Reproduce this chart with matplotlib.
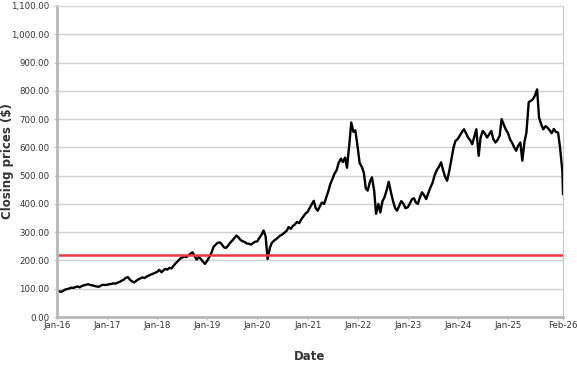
import matplotlib
matplotlib.use("Agg")
import matplotlib.pyplot as plt
import matplotlib.dates as mdates
import matplotlib.ticker as mticker
import numpy as np
import pandas as pd

y2016 = [95, 91, 89, 93, 97, 99, 101, 104, 103, 106, 108, 105,
         110, 112, 114, 116, 113, 112, 110, 108, 107, 111, 114, 113]
y2017 = [114, 116, 117, 119, 118, 121, 124, 128, 132, 138, 141, 132,
         126, 122, 128, 133, 137, 140, 138, 143, 147, 150, 153, 156]
y2018 = [160, 167, 158, 165, 170, 168, 174, 172, 182, 190, 198, 206,
         210, 214, 212, 218, 224, 229, 215, 203, 212, 205, 195, 188]
y2019 = [200, 212, 228, 248, 255, 262, 264, 258, 247, 244, 252, 262,
         270, 278, 288, 282, 272, 268, 265, 260, 259, 256, 262, 266]
y2020 = [268, 280, 292, 306, 285, 205, 245, 262, 270, 275, 282, 288,
         292, 298, 305, 318, 312, 322, 328, 336, 332, 345, 356, 365]
y2021 = [372, 385, 400, 411, 385, 376, 392, 405, 400, 420, 445, 470,
         488, 506, 520, 545, 560, 548, 564, 528, 610, 688, 655, 660]
y2022 = [600, 545, 530, 510, 455, 447, 480, 494, 447, 365, 400, 370,
         410, 423, 450, 478, 440, 411, 385, 376, 395, 410, 400, 385]
y2023 = [388, 400, 417, 420, 405, 400, 425, 441, 430, 417, 440, 458,
         475, 500, 520, 530, 547, 520, 495, 482, 520, 558, 600, 623]
y2024 = [630, 641, 655, 664, 650, 635, 625, 611, 640, 664, 570, 635,
         658, 650, 635, 645, 658, 630, 617, 625, 641, 700, 680, 664]
y2025 = [650, 629, 615, 600, 588, 605, 617, 553, 620, 652, 760, 764,
         770, 782, 805, 705, 680, 664, 675, 670, 660, 650, 665, 655]
y2026 = [652, 600, 517, 435]

threshold = 218

prices = y2016 + y2017 + y2018 + y2019 + y2020 + y2021 + y2022 + y2023 + y2024 + y2025 + y2026
dates = list(pd.date_range("2016-01-01", "2026-02-01", freq="SMS")) + [pd.Timestamp("2026-02-06")]

fig = plt.figure(figsize=(5.77, 3.67), dpi=100)
ax = fig.add_axes([0.0988, 0.1362, 0.877, 0.8475])

ax.plot(dates, prices, color="black", linewidth=1.7)
ax.axhline(threshold, color="#e8383d", linewidth=1.8)

ax.set_ylim(0, 1100)
ax.set_xlim(pd.Timestamp("2016-01-01"), pd.Timestamp("2026-02-06"))
ax.yaxis.set_major_locator(mticker.MultipleLocator(100))
ax.yaxis.set_major_formatter(mticker.FuncFormatter(lambda v, p: "{:,.2f}".format(v)))

xt = [pd.Timestamp(f"{y}-01-01") for y in range(2016, 2026)] + [pd.Timestamp("2026-02-06")]
ax.set_xticks(xt)
ax.xaxis.set_major_formatter(mdates.DateFormatter("%b-%y"))

ax.grid(axis="y", color="#d0d0d0", linewidth=1)
ax.set_axisbelow(True)
for s in ["left", "bottom"]:
    ax.spines[s].set_color("#b8b8b8")
    ax.spines[s].set_linewidth(2)
ax.spines["right"].set_color("#c8c8c8")
ax.spines["right"].set_linewidth(0.8)
ax.spines["top"].set_color("#d8d8d8")
ax.spines["top"].set_linewidth(0.8)
ax.tick_params(axis="both", labelsize=6.2, colors="#333333", length=2, width=0.6)
ax.tick_params(axis="both", color="#b8b8b8")
ax.tick_params(axis="x", pad=1)

ax.set_ylabel("Closing prices ($)", fontsize=8.5, fontweight="bold", color="#333333")
ax.set_xlabel("Date", fontsize=8.5, fontweight="bold", color="#333333")
ax.yaxis.set_label_coords(-0.085, 0.5)
ax.xaxis.set_label_coords(0.5, -0.105)

fig.savefig("out.png", dpi=100)
